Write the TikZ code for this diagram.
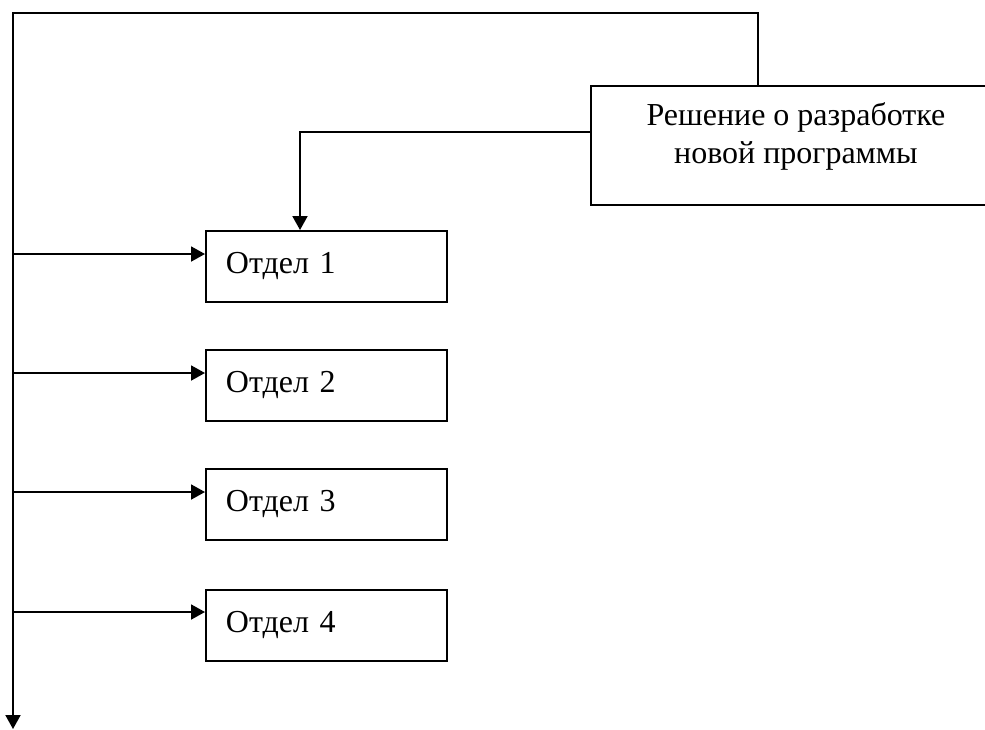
\documentclass[tikz,border=0pt]{standalone}
\usepackage{fontspec}
\setmainfont{Liberation Serif}
\usetikzlibrary{arrows.meta}
\begin{document}
\begin{tikzpicture}[x=1pt,y=-1pt,
  line width=1.9pt,
  arr/.style={-{Triangle[length=14pt,width=15pt]}},
  box/.style={draw, rectangle, line width=1.9pt, inner sep=0pt},
  dept/.style={box, anchor=north west, minimum width=240pt, minimum height=71pt,
    align=left, text width=201pt, inner xsep=20pt, font=\fontsize{32}{37}\selectfont},
  lbl/.style={align=center, font=\fontsize{32}{38}\selectfont}]
\useasboundingbox (0,0) rectangle (985,729);
\clip (0,0) rectangle (985,729);

% decision box (runs off the right edge)
\node[box, anchor=north west, minimum width=410pt, minimum height=119pt] (dec) at (590,85) {};
\node[lbl] (dectext) at ([yshift=9pt]dec.center) {Решение о разработке\\новой программы};

% departments
\node[dept] (d1) at (205,230) {Отдел 1};
\node[dept] (d2) at (205,349) {Отдел 2};
\node[dept] (d3) at (205,468) {Отдел 3};
\node[dept] (d4) at (205,589) {Отдел 4};

% routing points of the main loop
\coordinate (tr) at (758,13);
\coordinate (tl) at (13,13);
\coordinate (bot) at (13,729);
\coordinate (dj) at (300,132);

% main loop from the decision to the bottom
\draw[arr] (tr |- dec.north) -- (tr) -- (tl) -- (bot);

% decision to department 1
\draw[arr] (dec.west |- dj) -- (dj) -- (d1.north -| dj);

% branches into departments
\coordinate (b1) at (13,254);
\coordinate (b2) at (13,373);
\coordinate (b3) at (13,492);
\coordinate (b4) at (13,612);
\draw[arr] (b1) -- (d1.west |- b1);
\draw[arr] (b2) -- (d2.west |- b2);
\draw[arr] (b3) -- (d3.west |- b3);
\draw[arr] (b4) -- (d4.west |- b4);
\end{tikzpicture}
\end{document}
